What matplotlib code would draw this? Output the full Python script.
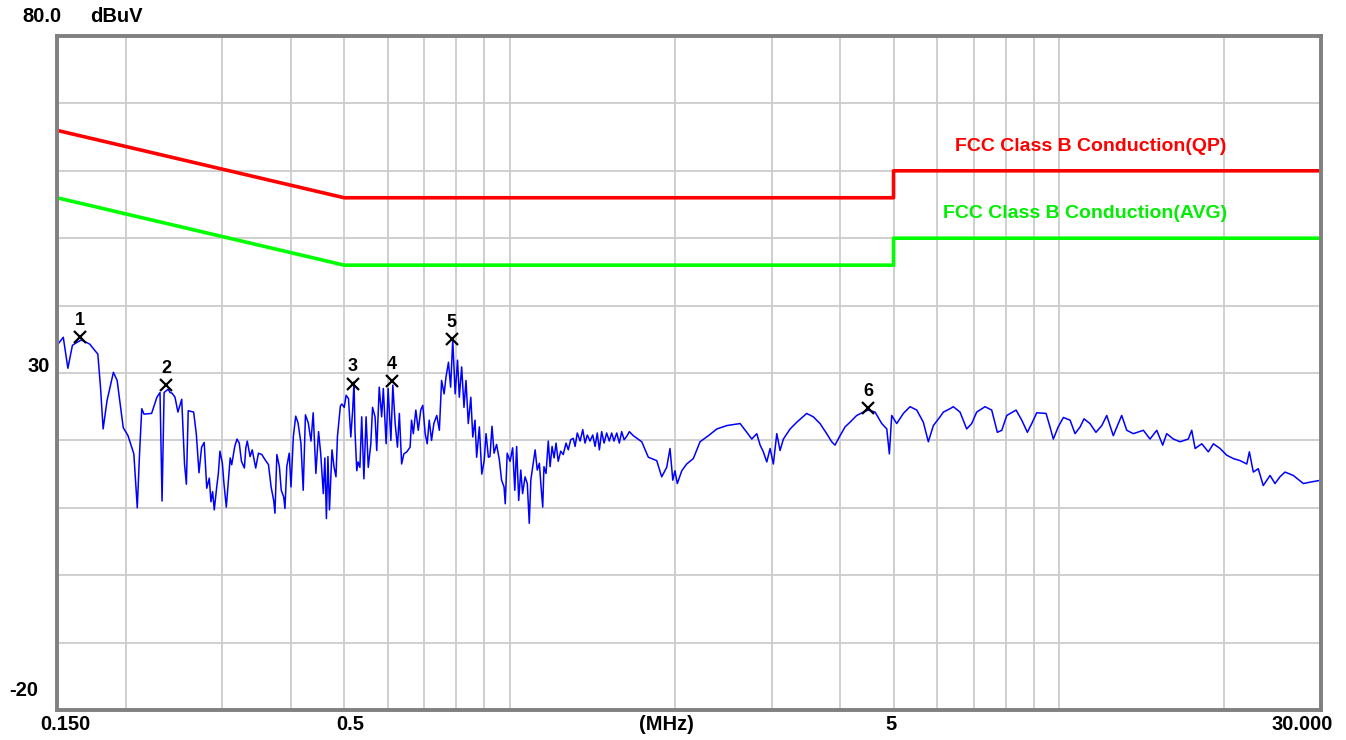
import matplotlib
matplotlib.use("Agg")
import matplotlib.pyplot as plt
from matplotlib.ticker import NullLocator

# measured trace, frequency in MHz and level in dBuV
freq_mhz = [
    0.150, 0.154, 0.157, 0.160, 0.162, 0.166, 0.172, 0.178, 0.180, 0.182,
    0.185, 0.190, 0.193, 0.198, 0.202, 0.207, 0.210, 0.212, 0.214, 0.216,
    0.223, 0.228, 0.231, 0.233, 0.235, 0.239, 0.241, 0.243, 0.246, 0.249,
    0.253, 0.256, 0.258, 0.260, 0.266, 0.269, 0.272, 0.275, 0.278, 0.281,
    0.284, 0.286, 0.288, 0.290, 0.293, 0.295, 0.297, 0.300, 0.302, 0.305,
    0.307, 0.310, 0.312, 0.316, 0.319, 0.322, 0.325, 0.329, 0.331, 0.333,
    0.337, 0.340, 0.345, 0.349, 0.354, 0.359, 0.364, 0.368, 0.372, 0.374,
    0.377, 0.381, 0.384, 0.388, 0.390, 0.393, 0.397, 0.400, 0.404, 0.408,
    0.412, 0.417, 0.421, 0.425, 0.430, 0.435, 0.439, 0.444, 0.449, 0.453,
    0.458, 0.461, 0.464, 0.467, 0.470, 0.475, 0.479, 0.483, 0.486, 0.492,
    0.495, 0.500, 0.504, 0.509, 0.514, 0.518, 0.521, 0.523, 0.527, 0.530,
    0.534, 0.538, 0.543, 0.548, 0.553, 0.559, 0.563, 0.569, 0.573, 0.579,
    0.585, 0.589, 0.596, 0.601, 0.608, 0.613, 0.619, 0.625, 0.630, 0.636,
    0.642, 0.650, 0.659, 0.663, 0.668, 0.675, 0.682, 0.689, 0.695, 0.702,
    0.708, 0.714, 0.721, 0.728, 0.737, 0.745, 0.752, 0.760, 0.766, 0.774,
    0.781, 0.788, 0.796, 0.804, 0.810, 0.818, 0.826, 0.833, 0.841, 0.850,
    0.857, 0.865, 0.871, 0.881, 0.890, 0.899, 0.906, 0.915, 0.921, 0.929,
    0.937, 0.947, 0.958, 0.967, 0.977, 0.982, 0.990, 1.002, 1.013, 1.022,
    1.030, 1.039, 1.048, 1.056, 1.067, 1.077, 1.086, 1.093, 1.102, 1.113,
    1.123, 1.133, 1.141, 1.149, 1.155, 1.165, 1.176, 1.185, 1.195, 1.205,
    1.215, 1.226, 1.239, 1.252, 1.267, 1.279, 1.292, 1.306, 1.316, 1.328,
    1.344, 1.359, 1.372, 1.385, 1.401, 1.417, 1.431, 1.444, 1.457, 1.471,
    1.486, 1.502, 1.519, 1.534, 1.549, 1.567, 1.584, 1.600, 1.616, 1.634,
    1.652, 1.680, 1.740, 1.789, 1.853, 1.892, 1.932, 1.959, 1.982, 2.000,
    2.020, 2.058, 2.101, 2.160, 2.222, 2.301, 2.384, 2.486, 2.628, 2.703,
    2.760, 2.818, 2.858, 2.897, 2.939, 2.980, 3.021, 3.065, 3.107, 3.151,
    3.241, 3.333, 3.474, 3.572, 3.674, 3.778, 3.858, 3.912, 3.995, 4.080,
    4.166, 4.285, 4.406, 4.499, 4.627, 4.759, 4.860, 4.913, 4.962, 5.067,
    5.210, 5.358, 5.511, 5.665, 5.785, 5.908, 6.076, 6.161, 6.336, 6.424,
    6.607, 6.794, 6.938, 7.085, 7.337, 7.545, 7.726, 7.870, 8.037, 8.357,
    8.558, 8.762, 8.924, 9.113, 9.476, 9.634, 9.768, 9.970, 10.19, 10.48,
    10.70, 10.93, 11.11, 11.39, 11.68, 11.97, 12.22, 12.56, 13.01, 13.29,
    13.66, 14.25, 14.65, 15.07, 15.45, 15.71, 16.16, 16.62, 17.20, 17.45,
    17.70, 18.20, 18.71, 19.11, 19.65, 20.21, 20.78, 21.37, 21.98, 22.22,
    22.59, 23.06, 23.55, 24.23, 24.74, 25.26, 25.80, 26.71, 27.86, 28.65,
    30.00,
]
level_dbuv = [
    34.1, 35.3, 30.7, 34.1, 34.4, 34.9, 34.3, 32.8, 27.9, 21.7,
    25.9, 30.1, 28.9, 21.9, 20.7, 18.0, 10.0, 18.0, 24.7, 23.9,
    24.0, 26.4, 27.1, 11.0, 27.1, 27.6, 27.1, 27.0, 26.4, 24.2,
    26.1, 16.5, 13.5, 24.4, 24.2, 20.9, 15.2, 19.0, 19.7, 12.9,
    14.4, 10.9, 12.4, 9.7, 13.1, 15.1, 18.4, 16.6, 13.6, 10.1,
    13.1, 17.4, 16.4, 19.1, 20.2, 19.6, 16.9, 15.9, 18.9, 19.9,
    17.6, 18.6, 15.9, 18.1, 17.9, 17.1, 16.4, 13.1, 11.1, 9.2,
    17.9, 16.1, 12.6, 11.6, 9.9, 16.1, 18.1, 13.1, 20.6, 23.6,
    22.6, 19.6, 12.6, 23.8, 22.6, 19.9, 24.1, 15.1, 21.3, 18.1,
    12.1, 17.4, 8.4, 17.6, 9.7, 18.6, 16.1, 14.6, 20.6, 25.1,
    25.4, 24.9, 26.7, 26.2, 20.5, 24.5, 28.7, 21.5, 15.5, 16.8,
    16.0, 23.5, 14.3, 23.5, 16.0, 19.5, 24.9, 23.5, 18.5, 27.9,
    23.5, 27.7, 19.5, 27.7, 20.0, 28.2, 22.5, 19.0, 24.0, 16.5,
    18.0, 18.3, 19.0, 23.0, 21.0, 24.5, 21.5, 24.5, 25.2, 21.0,
    19.5, 23.0, 20.0, 22.5, 23.7, 21.5, 28.9, 26.9, 29.4, 31.6,
    27.9, 34.9, 26.9, 31.9, 26.4, 30.9, 24.9, 28.9, 22.5, 26.4,
    20.5, 23.0, 17.5, 22.0, 15.0, 17.0, 21.0, 17.5, 17.6, 22.1,
    18.1, 19.4, 17.1, 14.1, 13.1, 10.6, 18.1, 16.9, 18.9, 12.6,
    19.1, 11.1, 15.6, 12.1, 14.6, 13.6, 7.7, 14.1, 16.1, 18.6,
    15.6, 16.6, 13.1, 10.1, 16.1, 15.1, 19.9, 16.1, 19.1, 17.4,
    19.6, 16.9, 18.4, 17.9, 19.6, 18.6, 20.1, 20.3, 19.1, 21.1,
    19.9, 21.6, 19.6, 20.8, 19.9, 20.8, 19.1, 21.1, 18.6, 21.3,
    19.6, 21.1, 19.9, 21.1, 19.9, 21.1, 19.6, 21.3, 20.1, 20.6,
    21.3, 20.7, 19.8, 17.5, 17.0, 14.6, 16.0, 18.8, 14.1, 15.5,
    13.6, 15.5, 16.5, 17.3, 19.8, 20.7, 21.7, 22.2, 22.5, 21.2,
    20.2, 21.0, 19.3, 18.3, 16.8, 18.8, 16.5, 21.0, 18.5, 20.2,
    21.7, 22.7, 24.0, 23.5, 22.5, 21.0, 19.8, 19.3, 20.7, 22.0,
    22.7, 23.7, 24.2, 24.5, 24.2, 22.5, 21.7, 18.0, 23.7, 22.5,
    24.0, 25.0, 24.5, 22.7, 19.8, 22.2, 23.5, 24.2, 24.7, 25.0,
    24.2, 21.7, 22.5, 24.2, 25.0, 24.5, 21.2, 21.5, 23.7, 24.5,
    23.0, 21.2, 22.5, 24.1, 24.0, 22.0, 20.2, 22.0, 23.4, 23.0,
    21.0, 22.0, 23.2, 22.5, 21.2, 22.2, 23.7, 20.7, 23.7, 21.5,
    21.0, 21.5, 20.2, 21.5, 19.3, 21.0, 20.2, 19.8, 20.2, 21.5,
    18.8, 19.5, 18.3, 19.5, 18.8, 17.8, 17.3, 17.0, 16.5, 18.3,
    15.3, 15.8, 13.3, 14.8, 13.6, 14.6, 15.3, 14.8, 13.6, 13.8,
    14.1,
]

# FCC class B conducted limits
limit_freq = [0.15, 0.5, 5.0, 5.0, 30.0]
qp_limit = [66, 56, 56, 60, 60]
avg_limit = [56, 46, 46, 50, 50]

marker_freq = [0.165, 0.237, 0.519, 0.611, 0.785, 4.49]
marker_level = [35.3, 28.2, 28.4, 28.8, 35.0, 24.8]
marker_ids = ["1", "2", "3", "4", "5", "6"]

grid_freqs = [0.2, 0.3, 0.4, 0.5, 0.6, 0.7, 0.8, 0.9, 1, 2, 3, 4, 5,
              6, 7, 8, 9, 10, 20]
grid_levels = [-10, 0, 10, 20, 30, 40, 50, 60, 70]

W, H = 1346, 740
FONT = "Liberation Sans"


def px(x, y):
    return x / W, 1 - y / H


def main():
    fig = plt.figure(figsize=(W / 100, H / 100), dpi=100)
    ax = fig.add_axes([57 / W, 30 / H, 1264 / W, 674 / H])
    ax.set_xscale("log")
    ax.set_xlim(0.15, 30)
    ax.set_ylim(-20, 80)

    ax.set_xticks(grid_freqs)
    ax.xaxis.set_minor_locator(NullLocator())
    ax.set_yticks(grid_levels)
    ax.tick_params(length=0, labelleft=False, labelbottom=False)
    ax.grid(True, color="#cccccc", linewidth=1.3)
    ax.set_axisbelow(True)
    for s in ax.spines.values():
        s.set_color("#808080")
        s.set_linewidth(2.8)

    ax.plot(limit_freq, qp_limit, color="#ff0000", lw=2.6)
    ax.plot(limit_freq, avg_limit, color="#00ff00", lw=2.6)
    ax.plot(freq_mhz, level_dbuv, color="#0000ff", lw=1.1)

    ax.plot(marker_freq, marker_level, "x", color="black", ms=9, mew=1.6)
    for f, v, t in zip(marker_freq, marker_level, marker_ids):
        ax.annotate(t, (f, v), xytext=(0, 6), textcoords="offset points",
                    ha="center", va="bottom", fontsize=13,
                    fontweight="bold", family=FONT)

    ax.text(20.2, 63.6, "FCC Class B Conduction(QP)", color="#ff0000",
            ha="right", va="center", fontsize=14, fontweight="bold",
            family=FONT)
    ax.text(20.2, 53.6, "FCC Class B Conduction(AVG)", color="#00ee00",
            ha="right", va="center", fontsize=14, fontweight="bold",
            family=FONT)

    lab = dict(fontsize=14.5, fontweight="bold", family=FONT, va="center")
    fig.text(*px(42, 16), "80.0", ha="center", **lab)
    fig.text(*px(116, 16), "dBuV", ha="center", **lab)
    fig.text(*px(50, 367), "30", ha="right", **lab)
    fig.text(*px(38, 690), "-20", ha="right", **lab)
    fig.text(*px(65, 724), "0.150", ha="center", **lab)
    fig.text(*px(350, 724), "0.5", ha="center", **lab)
    fig.text(*px(666, 724), "(MHz)", ha="center", **lab)
    fig.text(*px(891, 724), "5", ha="center", **lab)
    fig.text(*px(1333, 724), "30.000", ha="right", **lab)

    fig.savefig("out.png", dpi=100)


if __name__ == "__main__":
    main()
